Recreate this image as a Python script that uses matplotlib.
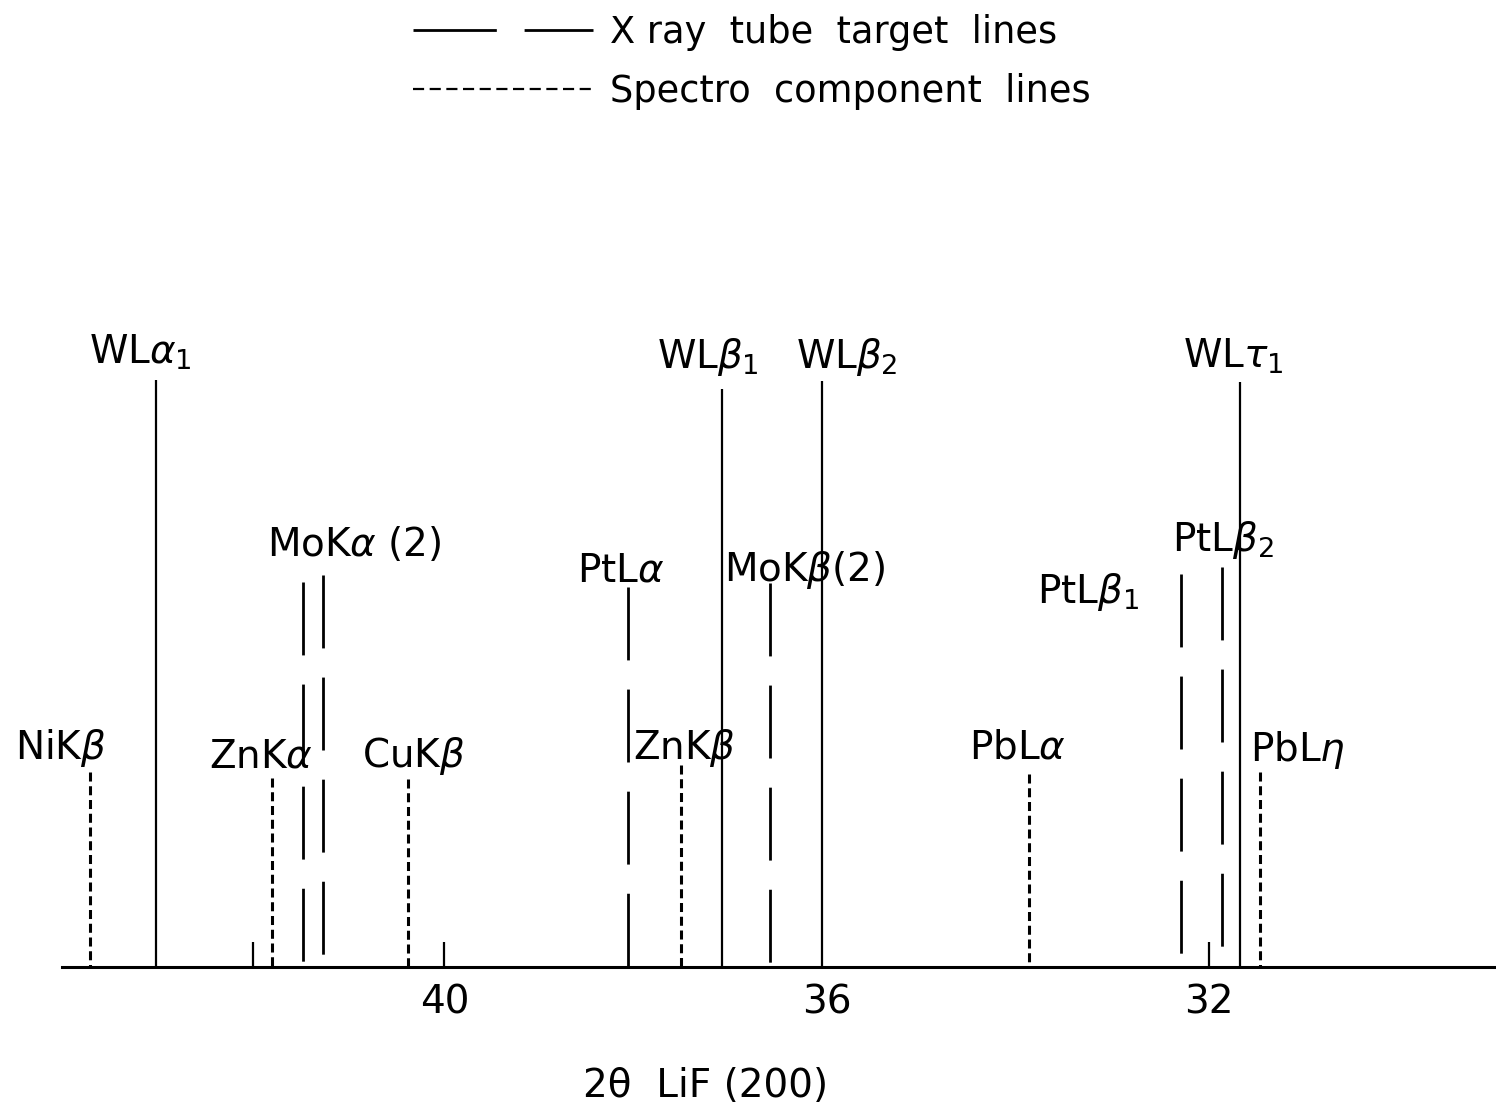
import matplotlib
matplotlib.use("Agg")
import matplotlib.pyplot as plt
from matplotlib.lines import Line2D

plt.rcParams['font.family'] = ['DejaVu Sans']
plt.rcParams['mathtext.fontset'] = 'dejavusans'
plt.rcParams['lines.scale_dashes'] = False

# 2-theta positions (deg) and relative heights
tube_names = ["WL$\\alpha_1$", "WL$\\beta_1$", "WL$\\beta_2$", "WL$\\tau_1$"]
tube_pos = [43.02, 37.10, 36.05, 31.68]
tube_height = [100, 98.5, 99.8, 99.7]

target_names = ["MoK$\\alpha$ (2)", None, "PtL$\\alpha$", "MoK$\\beta$(2)",
                "PtL$\\beta_1$", "PtL$\\beta_2$"]
target_pos = [41.48, 41.27, 38.08, 36.59, 32.29, 31.87]
target_height = [65.6, 66.8, 64.7, 65.4, 67.0, 68.1]

comp_names = ["NiK$\\beta$", "ZnK$\\alpha$", "CuK$\\beta$", "ZnK$\\beta$",
              "PbL$\\alpha$", "PbL$\\eta$"]
comp_pos = [43.71, 41.80, 40.38, 37.52, 33.88, 31.47]
comp_height = [33.2, 32.2, 32.0, 34.4, 32.9, 33.2]

tick_marks = [42, 40, 32]
label_pos = [40, 36, 32]
tick_labels = ["40", "36", "32"]

# label offsets in pixels from the top of each line (layout only)
tube_offsets = [(-67, 28), (-65, 32), (-26, 24), (-57, 25)]
target_offsets = [(-36, 37), None, (-51, 17), (-46, 13), (-144, -18), (-50, 27)]
comp_offsets = [(-75, 24), (-63, 21), (-46, 23), (-48, 17), (-60, 26), (-10, 22)]

long_dash = (0, (52.5, 21))
short_dash = (0, (6.5, 3.4))
fs = 28

fig = plt.figure(figsize=(14.96, 11.14), dpi=100)
ax = fig.add_axes([62 / 1496, 1 - 967 / 1114, 1434 / 1496, 587 / 1114])


def draw_group(names, pos, height, offsets, ls, lw):
    for name, x, h, off in zip(names, pos, height, offsets):
        ax.plot([x, x], [h, 0], color='black', lw=lw, ls=ls,
                solid_capstyle='butt', dash_capstyle='butt', clip_on=False)
        if name is not None:
            ax.annotate(name, xy=(x, h), xytext=off, textcoords='offset pixels',
                        ha='left', va='center', fontsize=fs)


draw_group(tube_names, tube_pos, tube_height, tube_offsets, '-', 1.6)
draw_group(target_names, target_pos, target_height, target_offsets, long_dash, 2.0)
draw_group(comp_names, comp_pos, comp_height, comp_offsets, short_dash, 2.2)

ax.set_xlim(44.0, 29.0)
ax.set_ylim(0, 100)
for s in ['left', 'top', 'right']:
    ax.spines[s].set_visible(False)
ax.spines['bottom'].set_linewidth(2.2)
ax.set_yticks([])
# labelled positions carry no mark; short marks sit at 42, 40 and 32
ax.xaxis.remove_overlapping_locs = False
ax.set_xticks(label_pos)
ax.set_xticklabels(tick_labels)
ax.set_xticks(tick_marks, minor=True)
ax.tick_params(axis='x', which='major', length=0, pad=12, labelsize=fs)
ax.tick_params(axis='x', which='minor', direction='in', length=18, width=1.6)

ax.set_xlabel("2θ  LiF (200)", fontsize=fs)
ax.xaxis.set_label_coords((706 - 62) / 1434, -0.17)

handles = [Line2D([], [], color='black', lw=2.0, ls=(0, (60, 20))),
           Line2D([], [], color='black', lw=1.6, ls=(0, (8, 4)))]
fig.legend(handles, ["X ray  tube  target  lines", "Spectro  component  lines"],
           loc='upper left', bbox_to_anchor=(413 / 1496, 1 - 14 / 1114),
           frameon=False, borderpad=0, borderaxespad=0, handlelength=4.9,
           handletextpad=0.45, labelspacing=0.6, fontsize=26.5)

fig.savefig("out.png", dpi=100)
